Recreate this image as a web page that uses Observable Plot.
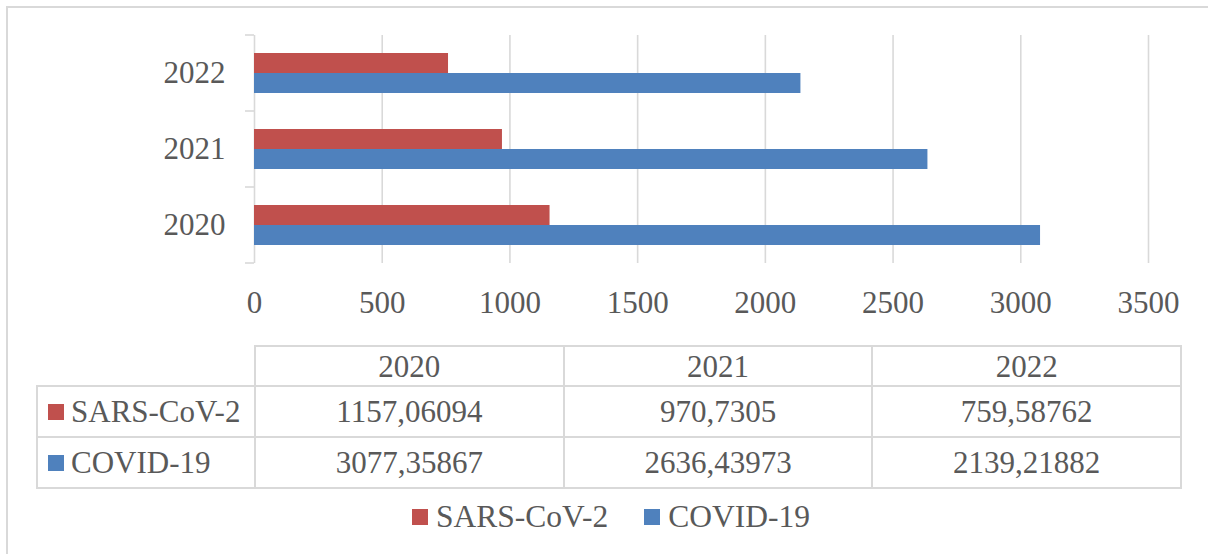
<!DOCTYPE html>
<html>
<head>
<meta charset="utf-8">
<script src="https://cdn.jsdelivr.net/npm/d3@7"></script>
<script src="https://cdn.jsdelivr.net/npm/@observablehq/plot@0.6"></script>
<style>
  body { margin: 0; background: #fff; overflow: hidden; }
  #wrap { position: relative; width: 1208px; height: 554px; overflow: hidden;
          font-family: "Liberation Serif", "Times New Roman", serif; color: #595959; }
  #border { position: absolute; left: 6px; top: 6px; width: 1230px; height: 580px;
            border: 2px solid #d9d9d9; box-sizing: border-box; }
  #chart { position: absolute; left: 0; top: 0; }
  #dtable { position: absolute; left: 36px; top: 345px; width: 1144px; table-layout: fixed;
            border-collapse: collapse; font-size: 31px; }
  #dtable td { border: 2px solid #d9d9d9; text-align: center; padding: 0; line-height: 1; white-space: nowrap; }
  #dtable td.blank { border-top: none; border-left: none; }
  #dtable td.lab { text-align: left; padding-left: 10px; }
  .key { display: inline-block; width: 16px; height: 16px; margin-right: 7px; vertical-align: middle; position: relative; top: -3px; }
  #legend { position: absolute; left: 412px; top: 499px; height: 36px; display: flex; align-items: center; font-size: 31.5px; }
  #legend .item { display: flex; align-items: center; }
  #legend .item + .item { margin-left: 36px; }
  #legend .sw { width: 16px; height: 16px; margin-right: 8px; }
</style>
</head>
<body>
<div id="wrap">
  <div id="border"></div>
  <div id="chart"></div>
  <table id="dtable"></table>
  <div id="legend"></div>
</div>
<script>
const years = [2020, 2021, 2022];
const seriesNames = ["SARS-CoV-2", "COVID-19"];
const sarsValues = [1157.06094, 970.7305, 759.58762];
const covidValues = [3077.35867, 2636.43973, 2139.21882];
const xTicks = [0, 500, 1000, 1500, 2000, 2500, 3000, 3500];
const colors = ["#C0504D", "#4F81BD"];

const rows = years.flatMap((year, i) => [
  {year, series: seriesNames[0], value: sarsValues[i]},
  {year, series: seriesNames[1], value: covidValues[i]}
]);

const chart = Plot.plot({
  width: 1208,
  height: 330,
  marginTop: 35,
  marginBottom: 67,
  marginLeft: 254,
  marginRight: 60,
  style: {fontFamily: '"Liberation Serif", "Times New Roman", serif', fontSize: "31px", color: "#595959", background: "transparent", overflow: "visible"},
  x: {domain: [0, 3500], axis: null},
  y: {domain: seriesNames, paddingInner: 0, paddingOuter: 0.9, axis: null},
  fy: {domain: [...years].reverse(), padding: 0, axis: null},
  color: {domain: seriesNames, range: colors},
  marks: [
    Plot.gridX(xTicks.filter(d => d > 0), {stroke: "#d9d9d9", strokeOpacity: 1, strokeWidth: 1.6}),
    Plot.ruleX([0], {stroke: "#d9d9d9", strokeWidth: 1.6}),
    Plot.barX(rows, {x: "value", y: "series", fy: "year", fill: "series"}),
    Plot.axisX(xTicks, {tickSize: 0, tickPadding: 27, tickFormat: "d", label: null, fontSize: 31}),
    Plot.axisFy({anchor: "left", tickSize: 0, tickPadding: 29, tickFormat: "d", label: null, fontSize: 31})
  ]
});
document.getElementById("chart").appendChild(chart);

// category tick marks between bands (Excel style), from the library's scales
const fyScale = chart.scale("fy");
const xScale = chart.scale("x");
const x0 = xScale.apply(0);
const bounds = fyScale.domain.map(d => fyScale.apply(d));
bounds.push(bounds[bounds.length - 1] + fyScale.bandwidth);
const svg = d3.select(chart.tagName.toLowerCase() === "svg" ? chart : chart.querySelector("svg"));
svg.append("g").selectAll("line").data(bounds).join("line")
  .attr("x1", x0 - 9).attr("x2", x0)
  .attr("y1", d => d).attr("y2", d => d)
  .attr("stroke", "#d9d9d9").attr("stroke-width", 1.6);

// data table
const fmt = v => String(v).replace(".", ",");
const table = d3.select("#dtable");
const cg = table.append("colgroup");
[218, 308.7, 308.7, 308.6].forEach(w => cg.append("col").style("width", w + "px"));
const head = table.append("tr").style("height", "40px");
head.append("td").attr("class", "blank");
years.forEach(y => head.append("td").text(y));
const seriesValues = [sarsValues, covidValues];
seriesNames.forEach((name, si) => {
  const tr = table.append("tr").style("height", "51px");
  const lab = tr.append("td").attr("class", "lab");
  lab.append("span").attr("class", "key").style("background", colors[si]);
  lab.append("span").text(name);
  seriesValues[si].forEach(v => tr.append("td").text(fmt(v)));
});

// legend
const legend = d3.select("#legend");
seriesNames.forEach((name, i) => {
  const it = legend.append("div").attr("class", "item");
  it.append("div").attr("class", "sw").style("background", colors[i]);
  it.append("span").text(name);
});
</script>
</body>
</html>
